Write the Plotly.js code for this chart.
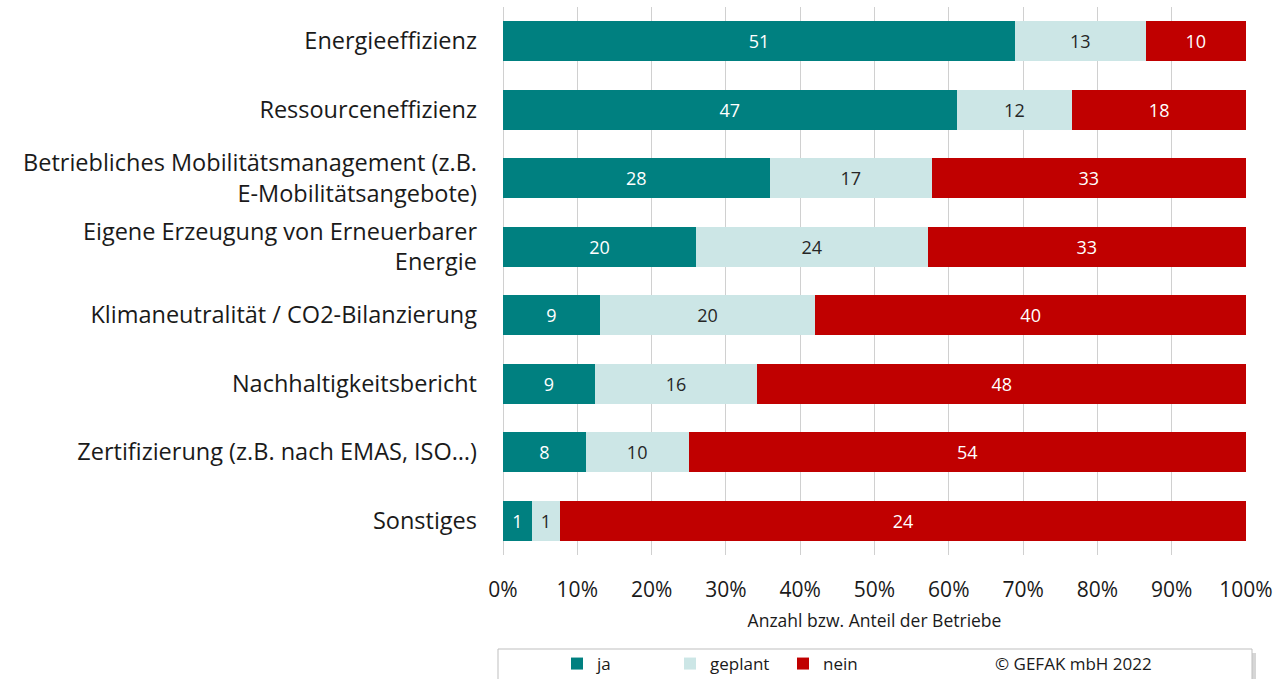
<!DOCTYPE html>
<html>
<head>
<meta charset="utf-8">
<script src="https://cdn.plot.ly/plotly-3.0.1.min.js"></script>
<style>
html,body{margin:0;padding:0;background:#fff;}
#chart{width:1287px;height:679px;}
</style>
</head>
<body>
<div id="chart"></div>
<script>
const categories = [
  "Energieeffizienz",
  "Ressourceneffizienz",
  "Betriebliches Mobilitätsmanagement (z.B.<br>E-Mobilitätsangebote)",
  "Eigene Erzeugung von Erneuerbarer<br>Energie",
  "Klimaneutralität / CO2-Bilanzierung",
  "Nachhaltigkeitsbericht",
  "Zertifizierung (z.B. nach EMAS, ISO…)",
  "Sonstiges"
];
const ja      = [51, 47, 28, 20, 9, 9, 8, 1];
const geplant = [13, 12, 17, 24, 20, 16, 10, 1];
const nein    = [10, 18, 33, 33, 40, 48, 54, 24];
const tickValues = [0, 10, 20, 30, 40, 50, 60, 70, 80, 90, 100];
const tickLabels = ["0%", "10%", "20%", "30%", "40%", "50%", "60%", "70%", "80%", "90%", "100%"];
const xTitle = "Anzahl bzw. Anteil der Betriebe";
const copyright = "© GEFAK mbH 2022";

const FONT = "Open Sans, Calibri, sans-serif";
const C_JA = "#008080", C_GEPLANT = "#cce6e6", C_NEIN = "#c00000";

function barTrace(name, vals, color, txtColor) {
  return {
    type: "bar", orientation: "h", name: name,
    y: categories, x: vals, text: vals.map(String),
    texttemplate: "%{text}", textposition: "inside", insidetextanchor: "middle",
    constraintext: "none",
    textfont: {family: FONT, size: 18, color: txtColor},
    marker: {color: color, line: {width: 0}},
    hoverinfo: "skip", legend: "legend"
  };
}

const traces = [
  barTrace("ja", ja, C_JA, "#ffffff"),
  barTrace("geplant", geplant, C_GEPLANT, "#262626"),
  barTrace("nein", nein, C_NEIN, "#ffffff"),
  {
    type: "bar", orientation: "h", name: copyright,
    y: categories, x: categories.map(() => 0),
    textposition: "none",
    marker: {color: "rgba(0,0,0,0)", line: {width: 0}},
    hoverinfo: "skip", legend: "legend2"
  }
];

const L = 503, R = 1246, T = 7, B = 555, W = 1287, H = 679;
const pw = R - L, ph = B - T;
const px = v => (v - L) / pw;
const py = v => (B - v) / ph;

const layout = {
  width: W, height: H,
  margin: {l: L, r: W - R, t: T, b: H - B, pad: 0, autoexpand: false},
  paper_bgcolor: "#ffffff", plot_bgcolor: "#ffffff",
  barmode: "stack", barnorm: "percent", bargap: 0.41,
  font: {family: FONT, color: "#1a1a1a"},
  showlegend: true,
  xaxis: {
    range: [0, 100], tickmode: "array", tickvals: tickValues, ticktext: tickLabels,
    showgrid: true, gridcolor: "#d0d0d0", gridwidth: 1,
    zeroline: true, zerolinecolor: "#d0d0d0", zerolinewidth: 1,
    showline: false, ticks: "", automargin: false,
    tickfont: {family: FONT, size: 21, color: "#1a1a1a"},
    ticklabelstandoff: 20,
    title: {text: xTitle, font: {family: FONT, size: 17.5, color: "#1a1a1a"}, standoff: 12},
    fixedrange: true
  },
  yaxis: {
    type: "category", autorange: "reversed", automargin: false,
    showgrid: false, zeroline: false, showline: false, ticks: "",
    tickfont: {family: FONT, size: 23.5, color: "#1a1a1a"},
    ticklabelstandoff: 25,
    fixedrange: true
  },
  legend: {
    orientation: "h", x: px(557), xanchor: "left", y: py(646), yanchor: "top",
    font: {family: FONT, size: 17, color: "#1a1a1a"},
    bgcolor: "rgba(0,0,0,0)", borderwidth: 0,
    itemwidth: 30, entrywidth: 68, entrywidthmode: "pixels",
    traceorder: "normal"
  },
  legend2: {
    orientation: "h", x: px(955), xanchor: "left", y: py(646), yanchor: "top",
    font: {family: FONT, size: 17, color: "#1a1a1a"},
    bgcolor: "rgba(0,0,0,0)", borderwidth: 0, itemwidth: 30
  },
  shapes: [
    {type: "rect", xref: "paper", yref: "paper", layer: "below",
     x0: px(502), x1: px(1256), y0: py(653), y1: py(690),
     fillcolor: "#d6d6d6", line: {width: 0}},
    {type: "rect", xref: "paper", yref: "paper", layer: "below",
     x0: px(498), x1: px(1252), y0: py(649), y1: py(690),
     fillcolor: "#ffffff", line: {color: "#bfbfbf", width: 1}}
  ]
};

Plotly.newPlot("chart", traces, layout, {displayModeBar: false, staticPlot: true});
</script>
</body>
</html>
